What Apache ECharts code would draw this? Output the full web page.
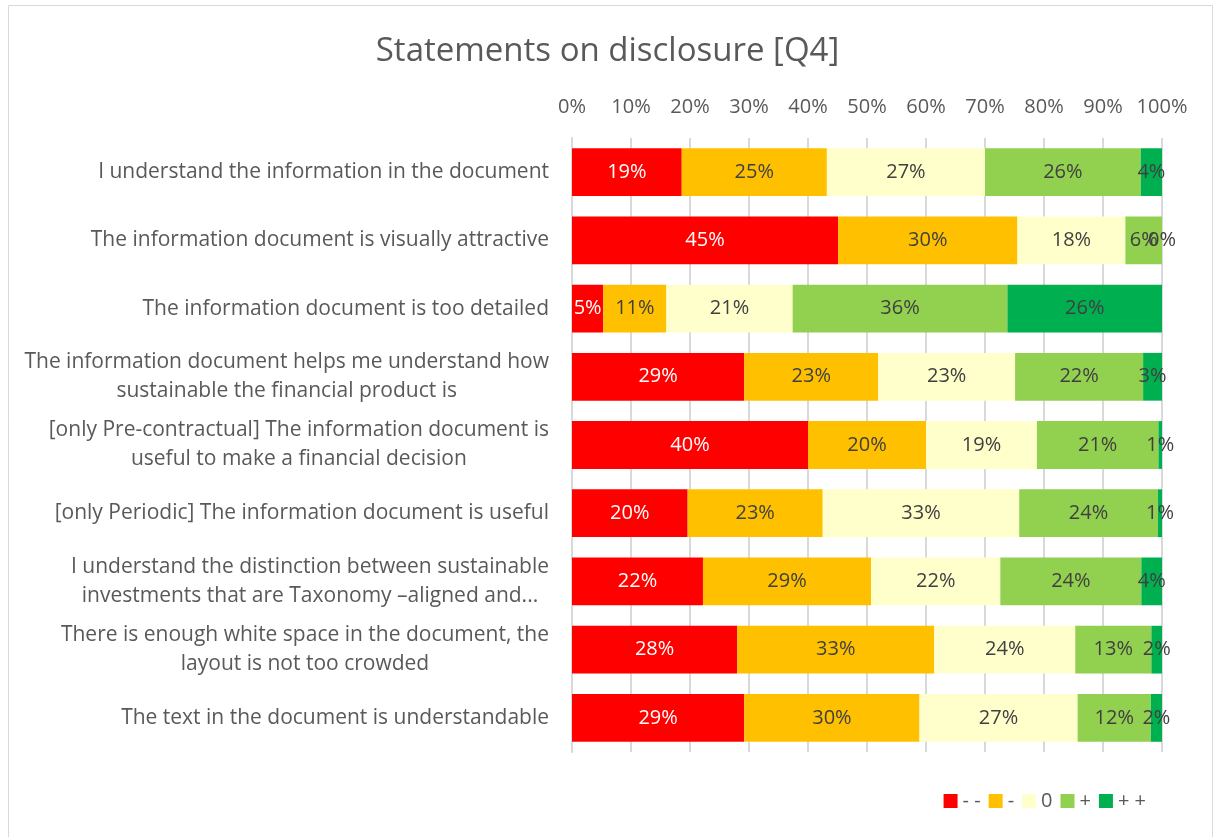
<!DOCTYPE html>
<html>
<head>
<meta charset="utf-8">
<script src="https://cdn.jsdelivr.net/npm/echarts@6/dist/echarts.min.js"></script>
<style>
html,body{margin:0;padding:0;background:#fff;}
#main{width:1215px;height:837px;}
</style>
</head>
<body>
<div id="main"></div>
<script>
const categories = [
  "I understand the information in the document",
  "The information document is visually attractive",
  "The information document is too detailed",
  "The information document helps me understand how\nsustainable the financial product is",
  "[only Pre-contractual] The information document is\nuseful to make a financial decision",
  "[only Periodic] The information document is useful",
  "I understand the distinction between sustainable\ninvestments that are Taxonomy \u2013aligned and...",
  "There is enough white space in the document, the\nlayout is not too crowded",
  "The text in the document is understandable"
];
const seriesNames = ["- -", "-", "0", "+", "+ +"];
const veryNegative = [18.6, 45.1, 5.3, 29.2, 40.0, 19.6, 22.2, 28.0, 29.2];
const negative     = [24.6, 30.4, 10.7, 22.7, 20.0, 22.9, 28.5, 33.4, 29.7];
const neutral      = [26.8, 18.3, 21.4, 23.2, 18.8, 33.3, 21.9, 23.9, 26.8];
const positive     = [26.4, 6.2, 36.4, 21.7, 20.6, 23.5, 23.9, 12.9, 12.4];
const veryPositive = [3.6, 0.0, 26.2, 3.2, 0.6, 0.7, 3.5, 1.8, 1.9];
const xTicks = [0, 10, 20, 30, 40, 50, 60, 70, 80, 90, 100];

const colors = ["#FF0000", "#FFC000", "#FFFFCC", "#92D050", "#00B050"];
const labelColors = ["#FFFFFF", "#404040", "#404040", "#404040", "#404040"];
const allData = [veryNegative, negative, neutral, positive, veryPositive];
const FONT = "'Open Sans', 'Noto Sans', sans-serif";

const chart = echarts.init(document.getElementById('main'), null, {renderer: 'canvas'});
chart.setOption({
  animation: false,
  color: colors,
  title: {
    text: "Statements on disclosure [Q4]",
    left: 'center',
    top: 30,
    textStyle: {fontFamily: FONT, fontSize: 33, fontWeight: 'normal', color: '#595959'}
  },
  graphic: [{
    type: 'rect',
    shape: {x: 8.5, y: 5.5, width: 1204, height: 840},
    style: {fill: 'none', stroke: '#d9d9d9', lineWidth: 1},
    silent: true
  }],
  legend: {
    right: 64,
    top: 786,
    itemWidth: 14,
    itemHeight: 14,
    itemGap: 8,
    icon: 'rect',
    textStyle: {fontFamily: FONT, fontSize: 20, color: '#595959'},
    data: seriesNames
  },
  grid: {left: 572, right: 53, top: 138, bottom: 85, containLabel: false},
  xAxis: {
    type: 'value',
    position: 'top',
    min: xTicks[0],
    max: xTicks[xTicks.length - 1],
    interval: 10,
    axisLine: {show: false},
    axisTick: {show: false},
    axisLabel: {
      formatter: '{value}%',
      fontFamily: FONT, fontSize: 20, color: '#595959', margin: 21
    },
    splitLine: {show: true, lineStyle: {color: '#d9d9d9', width: 2}}
  },
  yAxis: {
    type: 'category',
    inverse: true,
    data: categories,
    axisLine: {show: true, lineStyle: {color: '#d9d9d9', width: 2}},
    axisTick: {show: false},
    axisLabel: {
      margin: 23,
      fontFamily: FONT, fontSize: 21, color: '#595959', lineHeight: 29,
      formatter: function (v) {
        return v.split('\n').map(function (l) { return '{c|' + l + '}'; }).join('\n');
      },
      rich: {c: {align: 'center', fontFamily: FONT, fontSize: 21, color: '#595959', lineHeight: 29}}
    }
  },
  series: seriesNames.map(function (name, i) {
    return {
      name: name,
      type: 'bar',
      stack: 'total',
      barCategoryGap: '30%',
      data: allData[i],
      itemStyle: {color: colors[i]},
      label: {
        show: true,
        position: 'inside',
        fontFamily: FONT,
        fontSize: 20,
        color: labelColors[i],
        formatter: function (p) { return Math.round(p.value) + '%'; }
      }
    };
  })
});
</script>
</body>
</html>
